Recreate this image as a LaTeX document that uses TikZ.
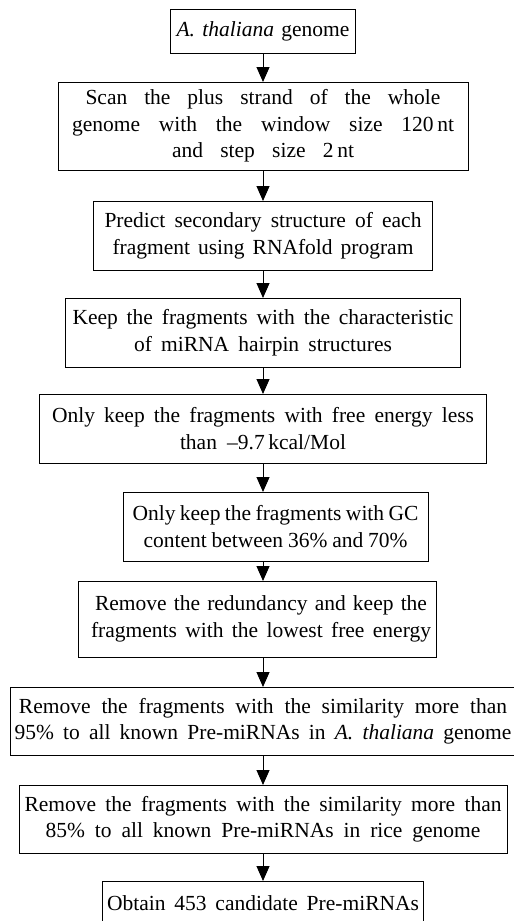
\documentclass[tikz,border=0pt]{standalone}
\usepackage{fontspec}
\setmainfont{Liberation Serif}
\usetikzlibrary{arrows.meta,positioning}
% one line of a box, spread to a given width
\newcommand{\fitline}[2]{\makebox[#1pt][s]{#2}}

\begin{document}
\begin{tikzpicture}[x=1pt,y=1pt,
  every node/.style={font=\fontsize{21.5}{26.5}\selectfont,align=center},
  stepbox/.style={draw,line width=1pt,inner sep=0pt,outer sep=0pt},
  flow/.style={-{Triangle[width=13pt,length=15pt]},line width=1pt}]
\useasboundingbox (0,0) rectangle (514,-921);
\node[stepbox,minimum width=185pt,minimum height=44pt] (genome) at (263,-31) {\fitline{173}{\textit{A. thaliana} genome}};
\node[stepbox,minimum width=410pt,minimum height=88pt,below=29pt of genome] (scan) {\fitline{355}{Scan the plus strand of the whole}\\\fitline{382}{genome with the window size 120\,nt}\\\fitline{182}{and step size 2\,nt}};
\node[stepbox,minimum width=339pt,minimum height=69pt,below=31pt of scan] (fold) {\fitline{317}{Predict secondary structure of each}\\\fitline{301}{fragment using RNAfold program}};
\node[stepbox,minimum width=395pt,minimum height=69pt,below=28pt of fold] (hairpin) {\fitline{381}{Keep the fragments with the characteristic}\\\fitline{258}{of miRNA hairpin structures}};
\node[stepbox,minimum width=447pt,minimum height=69pt,below=27pt of hairpin] (energy) {\fitline{422}{Only keep the fragments with free energy less}\\\fitline{166}{than --9.7\,kcal/Mol}};
\node[stepbox,minimum width=305pt,minimum height=69pt,below=29pt of energy,xshift=12.5pt] (gc) {\fitline{286}{Only keep the fragments with GC}\\\fitline{264}{content between 36\% and 70\%}};
\node[stepbox,minimum width=358pt,minimum height=76pt,below=20pt of gc,xshift=-18.5pt] (lowest) {\hspace*{8pt}\fitline{332}{Remove the redundancy and keep the}\\\hspace*{8pt}\fitline{340}{fragments with the lowest free energy}};
\node[stepbox,minimum width=506pt,minimum height=68pt,below=30pt of lowest,xshift=6pt] (known) {\fitline{488}{Remove the fragments with the similarity more than}\\\fitline{497}{95\% to all known Pre-miRNAs in \textit{A. thaliana} genome}};
\node[stepbox,minimum width=488pt,minimum height=68pt,below=30pt of known] (rice) {\fitline{477}{Remove the fragments with the similarity more than}\\\fitline{435}{85\% to all known Pre-miRNAs in rice genome}};
\node[stepbox,minimum width=321pt,minimum height=44pt,below=28pt of rice] (result) {\fitline{312}{Obtain 453 candidate Pre-miRNAs}};
% arrows down the middle
\foreach \a/\b in {genome/scan,scan/fold,fold/hairpin,hairpin/energy,energy/gc,gc/lowest,lowest/known,known/rice,rice/result}
  \draw[flow] (\a.south -| genome) -- (\b.north -| genome);
\end{tikzpicture}
\end{document}
